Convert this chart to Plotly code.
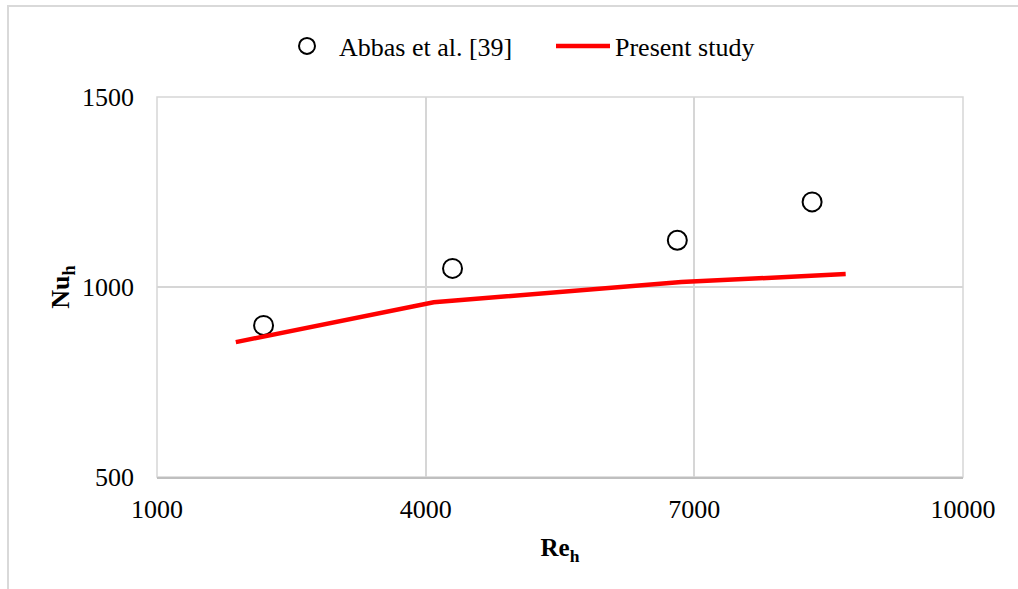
import plotly.graph_objects as go

# Data
abbas_re = [2190, 4300, 6810, 8315]
abbas_nu = [899, 1049, 1123, 1224]

present_re = [1880, 4090, 6855, 8690]
present_nu = [855, 960, 1013, 1034]

x_ticks = [1000, 4000, 7000, 10000]
y_ticks = [500, 1000, 1500]

FONT = "Liberation Serif, Times New Roman, serif"
GRID = "#d6d6d6"

fig = go.Figure()
fig.add_trace(go.Scatter(
    x=abbas_re, y=abbas_nu, mode="markers", name="Abbas et al. [39]",
    marker=dict(symbol="circle-open", size=19, color="black", line=dict(width=2, color="black")),
))
fig.add_trace(go.Scatter(
    x=present_re, y=present_nu, mode="lines", name="Present study",
    line=dict(color="#ff0000", width=4.5),
))

W, H = 1018, 589
L, R, T, B = 157, 55, 97, 112
pw, ph = W - L - R, H - T - B

fig.update_layout(
    width=W, height=H,
    margin=dict(l=L, r=R, t=T, b=B, pad=0),
    paper_bgcolor="white", plot_bgcolor="white",
    font=dict(family=FONT, size=26, color="black"),
    showlegend=True,
    legend=dict(orientation="h", x=(275 - L) / pw, xanchor="left",
                y=(H - B - 46) / ph, yanchor="middle",
                font=dict(family=FONT, size=26, color="black"),
                itemwidth=54, entrywidth=207, entrywidthmode="pixels",
                bgcolor="rgba(0,0,0,0)"),
    xaxis=dict(range=[1000, 10000], tickvals=x_ticks, ticktext=[str(v) for v in x_ticks],
               showgrid=True, gridcolor=GRID, gridwidth=1.5,
               showline=True, linecolor="#bfbfbf", linewidth=1.5,
               zeroline=False, ticks="", ticklabelstandoff=8,
               tickfont=dict(family=FONT, size=26, color="black"),
               title=dict(text="<b>Re<sub>h</sub></b>", font=dict(family=FONT, size=25, color="black"), standoff=16),
               automargin=False),
    yaxis=dict(range=[500, 1500], tickvals=y_ticks, ticktext=[str(v) for v in y_ticks],
               showgrid=True, gridcolor=GRID, gridwidth=1.5,
               showline=False, zeroline=False, ticks="", ticklabelstandoff=22,
               tickfont=dict(family=FONT, size=26, color="black"),
               title=dict(text="<b>Nu<sub>h</sub></b>", font=dict(family=FONT, size=26, color="black"), standoff=4),
               automargin=False),
    shapes=[
        dict(type="rect", xref="paper", yref="paper",
             x0=(8 - L) / pw, x1=2.0, y0=-2.0, y1=(H - B - 6) / ph,
             line=dict(color="#d9d9d9", width=2), fillcolor="rgba(0,0,0,0)", layer="below"),
        dict(type="rect", xref="paper", yref="paper", x0=0, x1=1, y0=0, y1=1,
             line=dict(color=GRID, width=1.5), fillcolor="rgba(0,0,0,0)", layer="below"),
    ],
)

fig.write_html("out.html")
